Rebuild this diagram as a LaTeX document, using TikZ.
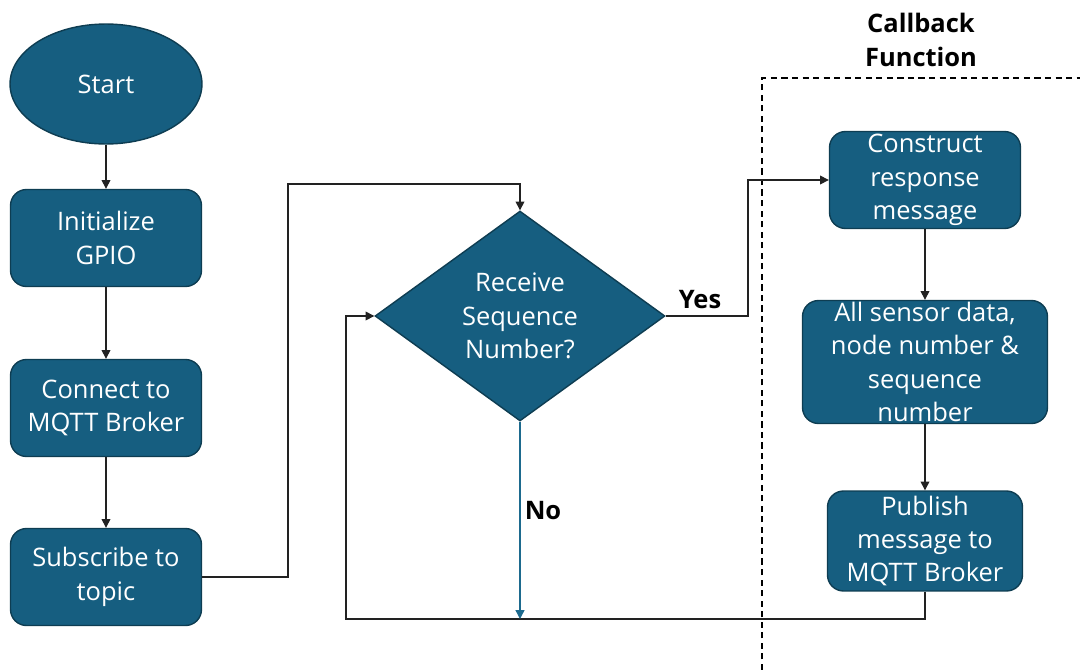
\documentclass[tikz,border=0pt]{standalone}
\usepackage{fontspec}
\setmainfont{Open Sans}
\usetikzlibrary{shapes.geometric,arrows.meta}
\definecolor{boxfill}{HTML}{165E80}
\definecolor{boxline}{HTML}{0E3D52}
\definecolor{noline}{HTML}{1D6A8E}
\definecolor{conncol}{HTML}{222222}
\tikzset{
  base/.style={fill=boxfill, draw=boxline, line width=0.8pt, text=white, align=center, inner sep=0pt,
    font=\fontsize{14.5}{19}\selectfont},
  procbox/.style={base, rounded corners=0.32cm, minimum width=3.82cm, minimum height=1.94cm},
  startnode/.style={base, ellipse, minimum width=3.84cm, minimum height=2.4cm},
  decision/.style={base, diamond, minimum width=5.8cm, minimum height=4.2cm},
  conn/.style={draw=conncol, line width=0.75pt, -{Triangle[length=5pt,width=5pt]}},
  lbl/.style={font=\bfseries\fontsize{14.5}{19}\selectfont, text=black, align=center, inner sep=0pt}
}
\begin{document}
\begin{tikzpicture}[x=0.02cm,y=-0.02cm]
\useasboundingbox (0,0) rectangle (1080,670);
\node[startnode] (start) at (106,84) {Start};
\node[procbox] (init) at (106,238) {Initialize\\GPIO};
\node[procbox] (conn) at (106,408) {Connect to\\MQTT Broker};
\node[procbox] (sub) at (106,577) {Subscribe to\\topic};
\node[decision] (dia) at (520,316) {Receive\\Sequence\\Number?};
\node[procbox] (cons) at (925,180) {Construct\\response\\message};
\node[procbox, minimum width=4.9cm, minimum height=2.46cm] (all) at (925,362) {All sensor data,\\node number \&\\sequence\\number};
\node[procbox, minimum width=3.9cm, minimum height=2.0cm] (pub) at (925,541) {Publish\\message to\\MQTT Broker};
\coordinate (noend) at (520,619);
\node[lbl] (yes) at (700,300) {Yes};
\node[lbl] (no) at (543,511) {No};
\node[lbl] (cb) at (921,40) {Callback\\Function};
\draw[dashed, line width=0.6pt, dash pattern=on 3.5pt off 2.5pt] (762,670) -- (762,78) -- (1080,78);
\draw[conn] (start) -- (init);
\draw[conn] (init) -- (conn);
\draw[conn] (conn) -- (sub);
\draw[conn] (sub.east) -| (288,184) -| (dia.north);
\draw[conn] (dia.east) -| (748,180) -- (cons.west);
\draw[conn] (cons) -- (all);
\draw[conn] (all) -- (pub);
\draw[conn] (pub.south) |- (346,619) |- (dia.west);
\draw[conn, draw=noline, -{Triangle[length=5pt,width=5pt,fill=noline]}] (dia.south) -- (noend);
\end{tikzpicture}
\end{document}
